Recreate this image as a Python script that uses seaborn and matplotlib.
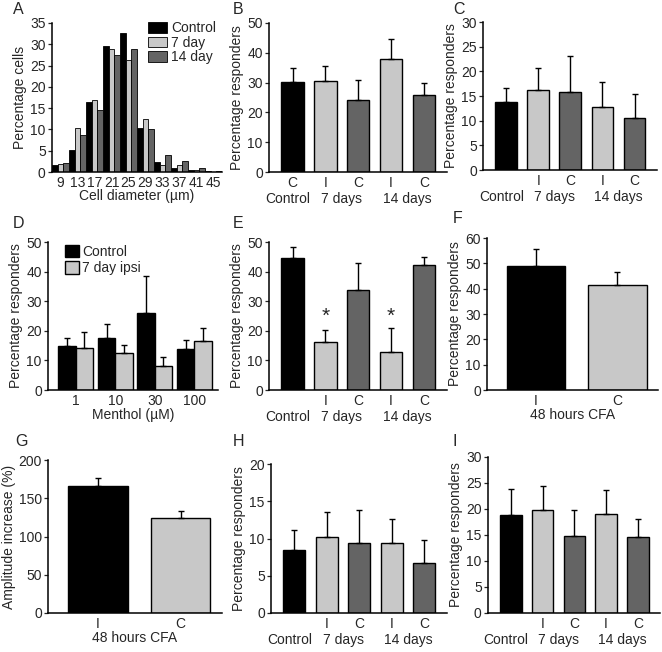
import numpy as np
import pandas as pd
import matplotlib
matplotlib.use("Agg")
import matplotlib.pyplot as plt
import seaborn as sns

sns.set_style("ticks")
plt.rcParams["font.family"] = ["Liberation Sans Narrow", "Liberation Sans", "DejaVu Sans"]

BLACK = "#000000"
LIGHT = "#c8c8c8"
DARK = "#646464"

# A: cell diameter distribution
diam_bins = ["9", "13", "17", "21", "25", "29", "33", "37", "41", "45"]
a_control = [1.7, 5.2, 16.5, 29.6, 32.6, 10.4, 2.4, 0.9, 0.5, 0.15]
a_7day = [1.9, 10.3, 16.8, 28.9, 26.2, 12.4, 1.7, 1.6, 0.4, 0.1]
a_14day = [2.2, 8.7, 14.5, 27.5, 29.0, 10.1, 4.1, 2.7, 0.9, 0.3]

# five-bar panels: Control, 7d I, 7d C, 14d I, 14d C
groups5 = ["Control", "7d I", "7d C", "14d I", "14d C"]
b_vals = [30.2, 30.7, 24.3, 38.0, 25.8]
b_errs = [4.7, 4.9, 6.6, 6.6, 4.2]
c_vals = [13.7, 16.3, 15.9, 12.8, 10.6]
c_errs = [2.9, 4.4, 7.3, 5.0, 4.9]
e_vals = [44.6, 16.2, 33.9, 12.8, 42.1]
e_errs = [3.8, 4.2, 9.1, 8.3, 2.8]
h_vals = [8.5, 10.2, 9.35, 9.4, 6.65]
h_errs = [2.6, 3.3, 4.5, 3.2, 3.1]
i_vals = [18.8, 19.8, 14.9, 19.0, 14.6]
i_errs = [5.0, 4.7, 4.9, 4.6, 3.4]

# D: menthol
menthol = ["1", "10", "30", "100"]
d_control = [15.0, 17.6, 26.0, 14.0]
d_control_err = [2.4, 4.8, 12.6, 2.8]
d_ipsi = [14.3, 12.4, 8.0, 16.4]
d_ipsi_err = [5.4, 2.7, 3.0, 4.4]

# F, G: 48 hours CFA
cfa_groups = ["I", "C"]
f_vals = [48.9, 41.4]
f_errs = [6.8, 5.0]
g_vals = [166, 124]
g_errs = [11, 9]

W, H = 662, 652
FS = 10
YFS = 10
YFAM = ["Liberation Sans", "DejaVu Sans"]


def add_ax(fig, x0, y0, x1, y1):
    return fig.add_axes([x0 / W, 1 - y1 / H, (x1 - x0) / W, (y1 - y0) / H])


def style(ax, ymax, step):
    sns.despine(ax=ax)
    for s in ["left", "bottom"]:
        ax.spines[s].set_linewidth(1.1)
        ax.spines[s].set_color("black")
    ax.set_ylim(0, ymax)
    ax.set_yticks(np.arange(0, ymax + 0.1, step))
    ax.tick_params(axis="y", length=3, width=0.9, pad=1.5, labelsize=FS)
    ax.tick_params(axis="x", length=0, pad=3, labelsize=FS)
    ax.set_xlabel("")


def errbars(ax, xs, vals, errs):
    ax.errorbar(xs, vals, yerr=[np.zeros(len(vals)), errs], fmt="none",
                ecolor="black", elinewidth=1, capsize=2.2, capthick=1, zorder=5)


def five_bar(ax, vals, errs, ymax, step, first="", ylabel="Percentage responders"):
    df = pd.DataFrame({"group": groups5, "value": vals})
    sns.barplot(data=df, x="group", y="value", hue="group",
                palette=[BLACK, LIGHT, DARK, LIGHT, DARK], legend=False,
                errorbar=None, width=0.68, edgecolor="black", linewidth=1, ax=ax)
    errbars(ax, np.arange(5), vals, errs)
    style(ax, ymax, step)
    ax.set_xlim(-0.72, 4.7)
    ax.set_xticks(range(5))
    ax.set_xticklabels([first, "I", "C", "I", "C"])
    ax.set_ylabel(ylabel, fontsize=YFS, family=YFAM, labelpad=2)
    for x, t in [(-0.15, "Control"), (1.5, "7 days"), (3.5, "14 days")]:
        ax.annotate(t, xy=(x, 0), xycoords=("data", "axes fraction"),
                    xytext=(0, -27 * 0.72), textcoords="offset points",
                    ha="center", va="center", fontsize=FS)


def two_bar(ax, vals, errs, ymax, step, ylabel):
    df = pd.DataFrame({"group": cfa_groups, "value": vals})
    sns.barplot(data=df, x="group", y="value", hue="group",
                palette=[BLACK, LIGHT], legend=False, errorbar=None,
                width=0.72, edgecolor="black", linewidth=1, ax=ax)
    errbars(ax, np.arange(2), vals, errs)
    style(ax, ymax, step)
    ax.set_xlim(-0.6, 1.5)
    ax.set_ylabel(ylabel, fontsize=YFS, family=YFAM, labelpad=2)
    ax.set_xlabel("48 hours CFA", fontsize=FS, labelpad=0)


def main():
    fig = plt.figure(figsize=(W / 100, H / 100), dpi=100)

    # A
    ax = add_ax(fig, 52, 23, 222, 172)
    df_a = pd.DataFrame({
        "diam": diam_bins * 3,
        "pct": a_control + a_7day + a_14day,
        "group": ["Control"] * 10 + ["7 day"] * 10 + ["14 day"] * 10,
    })
    sns.barplot(data=df_a, x="diam", y="pct", hue="group",
                palette=[BLACK, LIGHT, DARK], errorbar=None, width=0.95,
                edgecolor="black", linewidth=0.6, ax=ax)
    style(ax, 35, 5)
    ax.set_xlim(-0.5, 9.5)
    ax.set_ylabel("Percentage cells", fontsize=YFS, family=YFAM, labelpad=2)
    ax.set_xlabel("Cell diameter (\u00b5m)", fontsize=FS, labelpad=-1)
    h, l = ax.get_legend_handles_labels()
    ax.legend(h, l, loc="upper right", bbox_to_anchor=(1.0, 1.05),
              frameon=False, fontsize=FS, handlelength=1.4, handleheight=0.8,
              handletextpad=0.3, labelspacing=0.05, borderaxespad=0)

    # B, C
    five_bar(add_ax(fig, 269, 23, 447, 172), b_vals, b_errs, 50, 10, first="C")
    five_bar(add_ax(fig, 483, 22, 657, 170), c_vals, c_errs, 30, 5)

    # D
    ax = add_ax(fig, 48, 242, 218, 390)
    df_d = pd.DataFrame({
        "menthol": menthol * 2,
        "value": d_control + d_ipsi,
        "group": ["Control"] * 4 + ["7 day ipsi"] * 4,
    })
    sns.barplot(data=df_d, x="menthol", y="value", hue="group",
                palette=[BLACK, LIGHT], errorbar=None, width=0.88,
                edgecolor="black", linewidth=1, ax=ax)
    for cont, errs in zip(ax.containers, [d_control_err, d_ipsi_err]):
        xs = [p.get_x() + p.get_width() / 2 for p in cont]
        vals = [p.get_height() for p in cont]
        errbars(ax, xs, vals, errs)
    style(ax, 50, 10)
    ax.set_xlim(-0.7, 3.6)
    ax.set_ylabel("Percentage responders", fontsize=YFS, family=YFAM, labelpad=2)
    ax.set_xlabel("Menthol (\u00b5M)", fontsize=FS, labelpad=0)
    h, l = ax.get_legend_handles_labels()
    ax.legend(h, l, loc="upper left", bbox_to_anchor=(0.07, 1.02),
              frameon=False, fontsize=FS, handlelength=1.0, handleheight=1.0,
              handletextpad=0.2, labelspacing=0.2, borderaxespad=0)

    # E
    ax = add_ax(fig, 269, 242, 447, 390)
    five_bar(ax, e_vals, e_errs, 50, 10)
    for x in [1, 3]:
        ax.text(x, 24.8, "*", ha="center", va="center", fontsize=15,
                family=YFAM)

    # F, G
    two_bar(add_ax(fig, 487, 238, 658, 390), f_vals, f_errs, 60, 10,
            "Percentage responders")
    two_bar(add_ax(fig, 48, 460, 222, 613), g_vals, g_errs, 200, 50,
            "Amplitude increase (%)")

    # H, I
    five_bar(add_ax(fig, 271, 464, 447, 613), h_vals, h_errs, 20, 5)
    five_bar(add_ax(fig, 488, 457, 660, 613), i_vals, i_errs, 30, 5)

    for t, x, y in [("A", 13, 9), ("B", 233, 9), ("C", 453, 9),
                    ("D", 13, 224), ("E", 233, 224), ("F", 453, 218),
                    ("G", 15, 442), ("H", 233, 442), ("I", 452, 441)]:
        fig.text(x / W, 1 - y / H, t, ha="left", va="center", fontsize=11.5)

    fig.savefig("out.png", dpi=100)


if __name__ == "__main__":
    main()
